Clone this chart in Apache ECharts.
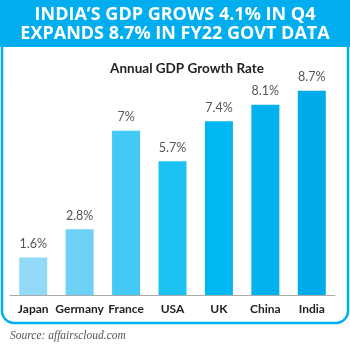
<!DOCTYPE html>
<html>
<head>
<meta charset="utf-8">
<script src="https://cdn.jsdelivr.net/npm/echarts@6/dist/echarts.min.js"></script>
<style>html,body{margin:0;padding:0;background:#fff}#c{width:350px;height:346px}</style>
</head>
<body>
<div id="c"></div>
<script>
const categories = ['Japan', 'Germany', 'France', 'USA', 'UK', 'China', 'India'];
const growthValues = [1.6, 2.8, 7, 5.7, 7.4, 8.1, 8.7];
const barColors = ['#92DAF8', '#6DD0F7', '#42C9F5', '#1CC2F3', '#00B8F1', '#00B1EE', '#00ABEA'];
const headerLines = ['INDIA\u2019S GDP GROWS 4.1% IN Q4', 'EXPANDS 8.7% IN FY22 GOVT DATA'];
const chartTitle = 'Annual GDP Growth Rate';
const sourceText = 'Source: affairscloud.com';

const chart = echarts.init(document.getElementById('c'));
chart.setOption({
  animation: false,
  graphic: [
    { type: 'rect', shape: { x: 2, y: 2, width: 346, height: 321, r: [0, 0, 12, 12] },
      style: { fill: '#fff', stroke: '#00AEEF', lineWidth: 2.5 }, z: 0 },
    { type: 'rect', shape: { x: 0, y: 0, width: 350, height: 47 }, style: { fill: '#00AEEF' }, z: 1 },
    { type: 'text', x: 175, y: 5, style: { text: headerLines.join('\n'), fill: '#fff', font: 'bold 18px "Open Sans"',
      textAlign: 'center', lineHeight: 19 }, z: 2 },
    { type: 'text', x: 10, y: 330, style: { text: sourceText, fill: '#555', font: 'italic 11.5px "Liberation Serif"' }, z: 2 }
  ],
  title: { text: chartTitle, left: 182, textAlign: 'center', top: 57,
    textStyle: { fontFamily: 'Lato', fontWeight: 'bold', fontSize: 13.5, color: '#222' } },
  grid: { left: 10, right: 15, top: 79, bottom: 51 },
  xAxis: { type: 'category', data: categories,
    axisLine: { lineStyle: { color: '#aaa', width: 1 } }, axisTick: { show: false },
    axisLabel: { interval: 0, color: '#222', fontWeight: 'bold', fontSize: 12, fontFamily: 'Lato', margin: 8 } },
  yAxis: { type: 'value', min: 0, max: 9.2, show: false, splitLine: { show: false } },
  series: [{ type: 'bar', barWidth: 28,
    data: growthValues.map((v, i) => ({ value: v, itemStyle: { color: barColors[i] } })),
    label: { show: true, position: 'top', distance: 7, formatter: '{c}%', color: '#555', fontSize: 12.5, fontFamily: 'Lato' } }]
});
</script>
</body>
</html>
